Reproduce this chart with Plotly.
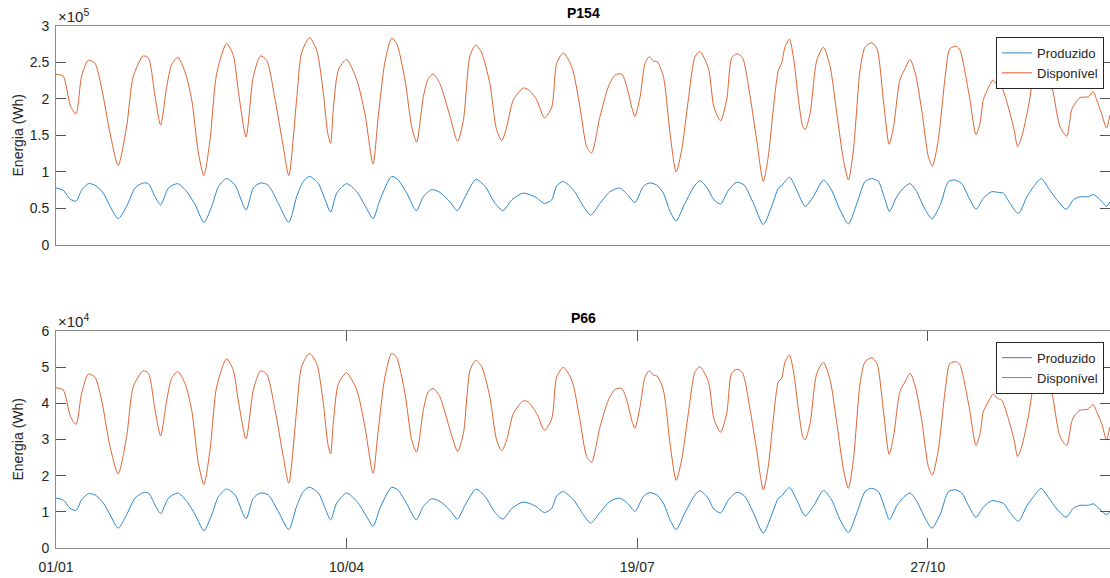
import pandas as pd
import plotly.graph_objects as go

# Day offsets (from 1 Jan 2020) of the sampled vertices of each curve
disp_days = [0.0, 2.5, 5.0, 6.9, 8.8, 11.1, 13.4, 15.7, 18.6, 21.4, 24.3, 26.6, 30.0, 31.8, 34.1, 36.0,
             38.1, 39.8, 41.9, 44.4, 46.7, 49.0, 50.9, 53.0, 55.3, 58.7, 61.0, 62.7, 65.4, 67.9, 70.4,
             72.5, 75.4, 78.2, 80.1, 82.8, 84.5, 87.2, 89.7, 92.0, 93.5, 94.5, 95.4, 97.2, 100.0, 103.5,
             106.3, 109.1, 110.9, 113.2, 115.5, 117.2, 120.1, 122.4, 124.1, 126.4, 128.1, 129.8, 132.1,
             135.6, 138.2, 140.2, 142.5, 144.5, 146.5, 149.3, 151.6, 153.4, 155.1, 157.4, 160.8, 162.5,
             165.4, 168.1, 170.6, 172.3, 174.6, 177.5, 180.3, 182.6, 184.3, 187.2, 190.1, 192.4, 194.7,
             196.4, 198.1, 199.2, 201.0, 202.7, 204.2, 205.6, 206.9, 209.0, 211.3, 213.4, 215.3, 217.6,
             219.9, 221.6, 224.5, 226.4, 228.7, 230.8, 232.5, 234.3, 236.2, 238.8, 241.1, 243.4, 245.1,
             246.8, 248.6, 249.7, 250.9, 252.4, 253.8, 255.5, 257.0, 257.8, 259.5, 261.8, 264.1, 266.4,
             268.7, 271.0, 272.7, 274.4, 276.7, 278.4, 280.7, 282.5, 284.7, 286.7, 288.2, 290.4, 292.2,
             293.9, 295.6, 297.9, 300.2, 301.6, 303.6, 306.0, 307.6, 309.9, 311.1, 312.8, 314.5, 316.6,
             318.0, 319.1, 320.8, 322.5, 323.9, 325.4, 327.7, 329.7, 330.9, 332.3, 334.6, 336.3, 339.0,
             341.7, 343.2, 345.5, 347.8, 349.5, 350.7, 352.4, 355.2, 356.9, 358.1, 359.8, 361.5, 362.7]

prod_days = [0.0, 2.5, 4.8, 6.9, 8.8, 11.1, 13.4, 16.3, 18.6, 21.4, 24.3, 27.2, 30.0, 31.8, 34.1, 36.0,
             38.7, 41.9, 45.0, 47.9, 50.9, 53.6, 55.9, 58.7, 61.6, 65.4, 67.9, 70.4, 73.0, 76.5, 80.1,
             82.8, 85.1, 87.2, 90.3, 92.6, 94.5, 96.6, 100.0, 103.5, 106.9, 109.1, 111.5, 115.5, 117.8,
             120.7, 124.0, 126.4, 129.3, 132.1, 135.6, 138.1, 140.8, 144.5, 147.7, 151.1, 153.8, 156.9,
             160.8, 164.8, 168.1, 170.6, 172.3, 174.6, 178.1, 181.5, 184.0, 187.2, 190.6, 194.0, 196.9,
             199.2, 202.1, 204.2, 206.7, 209.0, 211.3, 213.4, 216.4, 219.9, 221.6, 224.1, 226.4, 228.7,
             231.4, 234.3, 236.8, 240.0, 243.4, 246.3, 248.6, 249.7, 252.4, 254.9, 257.8, 260.6, 264.1,
             266.9, 269.8, 272.7, 275.6, 278.4, 280.7, 283.0, 285.3, 286.8, 289.3, 291.6, 293.9, 296.2,
             298.5, 301.4, 304.3, 307.1, 309.4, 311.7, 314.0, 316.6, 319.1, 322.0, 324.3, 326.0, 328.3,
             331.2, 334.1, 336.4, 339.0, 341.5, 344.4, 347.6, 350.1, 352.4, 355.2, 357.0, 359.3, 361.5,
             362.7]

# P154 energy, in units of 1e5 Wh
p154_disponivel = [2.34, 2.31, 1.90, 1.80, 2.31, 2.53, 2.49, 2.15, 1.53, 1.09, 1.62, 2.31, 2.59, 2.56, 2.03, 1.64,
                   2.17, 2.47, 2.57, 2.37, 1.99, 1.26, 0.95, 1.44, 2.35, 2.76, 2.60, 2.12, 1.48, 2.31, 2.59,
                   2.53, 1.99, 1.35, 0.95, 1.99, 2.63, 2.84, 2.67, 2.08, 1.53, 1.39, 1.85, 2.40, 2.54, 2.26,
                   1.80, 1.11, 1.76, 2.51, 2.83, 2.76, 2.26, 1.62, 1.41, 2.03, 2.28, 2.34, 2.21,
                   1.76, 1.42, 1.71, 2.60, 2.74, 2.63, 2.21, 1.58, 1.43, 1.62, 1.99, 2.15, 2.13,
                   1.99, 1.74, 1.89, 2.49, 2.63, 2.44, 1.89, 1.35, 1.26, 1.76, 2.17, 2.33, 2.34,
                   2.17, 1.89, 1.76, 2.03, 2.49, 2.58, 2.52, 2.51, 2.31, 1.53, 1.00, 1.30, 1.99,
                   2.58, 2.65, 2.42, 1.89, 1.70, 1.99, 2.56, 2.62, 2.57, 2.05, 1.44, 0.87, 1.21,
                   1.85, 2.40, 2.49, 2.72, 2.82, 2.56, 1.99, 1.62, 1.58, 1.80, 2.53, 2.71, 2.44,
                   1.80, 1.16, 0.89, 1.30, 2.40, 2.71, 2.77, 2.69, 1.99, 1.38, 1.62, 2.26, 2.42,
                   2.54, 2.37, 1.85, 1.21, 1.08, 1.44, 2.31, 2.69, 2.72, 2.67, 2.37, 1.99, 1.51,
                   1.67, 1.99, 2.15, 2.26, 2.19, 2.16, 1.89, 1.58, 1.35, 1.48, 1.89, 2.31, 2.72,
                   2.33, 2.08, 1.62, 1.49, 1.85, 1.94, 2.02, 2.03, 2.10, 1.99, 1.80, 1.60, 1.78]

p154_produzido = [0.78, 0.75, 0.63, 0.60, 0.75, 0.84, 0.82, 0.71, 0.53, 0.36, 0.53, 0.78, 0.85, 0.84, 0.66, 0.55,
                  0.78, 0.84, 0.73, 0.55, 0.31, 0.53, 0.80, 0.91, 0.82, 0.48, 0.78, 0.85, 0.82, 0.57, 0.31,
                  0.66, 0.87, 0.94, 0.84, 0.62, 0.45, 0.71, 0.84, 0.73, 0.50, 0.36, 0.62, 0.94, 0.89,
                  0.71, 0.47, 0.66, 0.76, 0.72, 0.59, 0.47, 0.66, 0.90, 0.80, 0.57, 0.47, 0.62,
                  0.71, 0.66, 0.57, 0.62, 0.81, 0.87, 0.75, 0.53, 0.41, 0.57, 0.73, 0.78, 0.68,
                  0.58, 0.80, 0.85, 0.82, 0.71, 0.46, 0.33, 0.57, 0.82, 0.88, 0.78, 0.62, 0.56,
                  0.75, 0.86, 0.82, 0.57, 0.28, 0.53, 0.78, 0.81, 0.93, 0.75, 0.53, 0.66, 0.89,
                  0.75, 0.48, 0.29, 0.57, 0.87, 0.91, 0.87, 0.62, 0.46, 0.66, 0.78, 0.84, 0.73,
                  0.53, 0.36, 0.55, 0.87, 0.89, 0.84, 0.66, 0.49, 0.64, 0.73, 0.72, 0.71, 0.57,
                  0.43, 0.66, 0.80, 0.91, 0.78, 0.62, 0.49, 0.62, 0.66, 0.66, 0.69, 0.62, 0.53,
                  0.59]

# P66 energy, in units of 1e4 Wh
p66_disponivel = [4.43, 4.37, 3.63, 3.42, 4.27, 4.81, 4.72, 4.09, 2.80, 2.05, 3.08, 4.46, 4.90, 4.83, 3.81, 3.10,
                  4.09, 4.69, 4.88, 4.55, 3.81, 2.34, 1.76, 2.71, 4.46, 5.23, 4.92, 4.09, 3.02, 4.37, 4.90,
                  4.81, 3.81, 2.53, 1.79, 3.81, 5.01, 5.38, 5.10, 4.00, 2.90, 2.60, 3.45, 4.55, 4.84, 4.37,
                  3.35, 2.07, 3.26, 4.73, 5.38, 5.27, 4.27, 2.99, 2.65, 3.81, 4.32, 4.41, 4.18,
                  3.26, 2.67, 3.17, 4.92, 5.19, 5.01, 4.18, 2.99, 2.69, 2.99, 3.72, 4.07, 4.04,
                  3.72, 3.26, 3.58, 4.73, 4.99, 4.64, 3.54, 2.53, 2.37, 3.35, 4.09, 4.39, 4.41,
                  4.09, 3.54, 3.31, 3.91, 4.73, 4.90, 4.78, 4.75, 4.37, 2.90, 1.87, 2.44, 3.72,
                  4.87, 5.01, 4.60, 3.58, 3.20, 3.72, 4.83, 4.94, 4.85, 3.85, 2.71, 1.61, 2.25,
                  3.54, 4.60, 4.69, 5.15, 5.33, 4.87, 3.81, 3.08, 2.99, 3.45, 4.83, 5.13, 4.64,
                  3.45, 2.16, 1.65, 2.44, 4.55, 5.15, 5.26, 5.10, 3.81, 2.59, 3.08, 4.32, 4.60,
                  4.83, 4.50, 3.54, 2.25, 2.02, 2.71, 4.37, 5.10, 5.15, 5.06, 4.50, 3.77, 2.83,
                  3.17, 3.77, 4.04, 4.26, 4.14, 4.09, 3.58, 2.99, 2.53, 2.80, 3.63, 4.46, 5.15,
                  4.64, 4.09, 3.08, 2.83, 3.49, 3.68, 3.81, 3.84, 3.97, 3.77, 3.45, 2.99, 3.35]

p66_produzido = [1.38, 1.33, 1.10, 1.04, 1.33, 1.50, 1.47, 1.24, 0.92, 0.55, 0.92, 1.38, 1.53, 1.52, 1.19, 0.95,
                 1.38, 1.52, 1.29, 0.92, 0.48, 0.92, 1.42, 1.63, 1.47, 0.81, 1.38, 1.52, 1.47, 1.01, 0.51,
                 1.15, 1.56, 1.68, 1.52, 1.10, 0.78, 1.24, 1.52, 1.29, 0.87, 0.60, 1.10, 1.68, 1.59,
                 1.22, 0.78, 1.15, 1.36, 1.29, 1.04, 0.80, 1.19, 1.63, 1.42, 0.98, 0.80, 1.10,
                 1.27, 1.17, 0.98, 1.10, 1.44, 1.56, 1.33, 0.92, 0.69, 0.98, 1.29, 1.38, 1.22,
                 1.01, 1.42, 1.53, 1.47, 1.24, 0.78, 0.51, 0.97, 1.47, 1.58, 1.41, 1.08, 0.97,
                 1.33, 1.54, 1.45, 0.97, 0.41, 0.92, 1.38, 1.44, 1.67, 1.33, 0.89, 1.15, 1.59,
                 1.33, 0.78, 0.43, 0.97, 1.56, 1.65, 1.56, 1.08, 0.78, 1.17, 1.40, 1.52, 1.29,
                 0.92, 0.55, 0.94, 1.56, 1.61, 1.52, 1.17, 0.85, 1.13, 1.31, 1.28, 1.24, 0.98,
                 0.74, 1.17, 1.42, 1.65, 1.40, 1.08, 0.85, 1.10, 1.18, 1.18, 1.22, 1.06, 0.92,
                 1.01]

x_tick_days = [0, 100, 200, 300]
y1_ticks = [0, 0.5, 1, 1.5, 2, 2.5, 3]
y2_ticks = [0, 1, 2, 3, 4, 5, 6]

BLUE = "#2b86cc"
ORANGE = "#de6433"
AXIS = "#8c8c8c"
TEXT = "#262626"
FONT = "Liberation Sans, Arial, Helvetica, sans-serif"

start = pd.Timestamp("2020-01-01")
to_dates = lambda d: start + pd.to_timedelta(d, unit="D")
x_disp = to_dates(disp_days)
x_prod = to_dates(prod_days)
x_end = to_dates([362.7])[0]

fig = go.Figure()
line_kw = dict(shape="spline", smoothing=0.7, width=1)

fig.add_trace(go.Scatter(x=x_prod, y=[v * 1e5 for v in p154_produzido], name="Produzido",
                         mode="lines", line=dict(color=BLUE, **line_kw), xaxis="x", yaxis="y", legend="legend"))
fig.add_trace(go.Scatter(x=x_disp, y=[v * 1e5 for v in p154_disponivel], name="Disponível",
                         mode="lines", line=dict(color=ORANGE, **line_kw), xaxis="x", yaxis="y", legend="legend"))
fig.add_trace(go.Scatter(x=x_prod, y=[v * 1e4 for v in p66_produzido], name="Produzido",
                         mode="lines", line=dict(color=BLUE, **line_kw), xaxis="x2", yaxis="y2", legend="legend2"))
fig.add_trace(go.Scatter(x=x_disp, y=[v * 1e4 for v in p66_disponivel], name="Disponível",
                         mode="lines", line=dict(color=ORANGE, **line_kw), xaxis="x2", yaxis="y2", legend="legend2"))

axis_common = dict(showline=True, linecolor=AXIS, linewidth=1, showgrid=False, zeroline=False,
                   tickcolor="#555555", tickfont=dict(size=14, color=TEXT, family=FONT))

tickvals_x = [to_dates([d])[0] for d in x_tick_days]

legend_common = dict(bgcolor="white", bordercolor=TEXT, borderwidth=1, xanchor="right", yanchor="top",
                     font=dict(size=13, color=TEXT, family=FONT), tracegroupgap=0, itemwidth=30)

fig.update_layout(
    width=1110, height=578,
    margin=dict(l=56, r=0, t=26, b=30),
    paper_bgcolor="white", plot_bgcolor="white",
    font=dict(family=FONT, size=14, color=TEXT),
    xaxis=dict(domain=[0, 1], anchor="y", range=[start, x_end], type="date",
               mirror=True, ticks="", showticklabels=False, **axis_common),
    yaxis=dict(domain=[0.5805, 1], anchor="x", range=[0, 3e5], mirror="ticks", ticks="inside", ticklen=10,
               ticklabelstandoff=3,
               tickvals=[v * 1e5 for v in y1_ticks], ticktext=[f"{v:g}" for v in y1_ticks], **axis_common),
    xaxis2=dict(domain=[0, 1], anchor="y2", range=[start, x_end], type="date", ticklabelstandoff=6,
                mirror="ticks", ticks="inside", ticklen=10, tickvals=tickvals_x, tickformat="%d/%m", **axis_common),
    yaxis2=dict(domain=[0, 0.4157], anchor="x2", range=[0, 6e4], mirror="ticks", ticks="inside", ticklen=10,
                ticklabelstandoff=3,
                tickvals=[v * 1e4 for v in y2_ticks], ticktext=[f"{v:g}" for v in y2_ticks], **axis_common),
    legend=dict(x=0.9943, y=0.979, **legend_common),
    legend2=dict(x=0.9943, y=0.3952, **legend_common),
    showlegend=True,
)

annotations = []
for xa, ya, title, exp in [("x", "y", "P154", 5), ("x2", "y2", "P66", 4)]:
    annotations.append(dict(text=f"<b>{title}</b>", xref=f"{xa} domain", yref=f"{ya} domain",
                            x=0.5, y=1, xanchor="center", yanchor="bottom", yshift=3, showarrow=False,
                            font=dict(size=14, color="black", family=FONT)))
    annotations.append(dict(text=f"×10<sup>{exp}</sup>", xref=f"{xa} domain", yref=f"{ya} domain",
                            x=0, y=1, xanchor="left", yanchor="bottom", yshift=-1, showarrow=False,
                            font=dict(size=15, color=TEXT, family=FONT)))
    annotations.append(dict(text="Energia (Wh)", xref=f"{xa} domain", yref=f"{ya} domain",
                            x=-38 / 1054, y=0.5, xanchor="center", yanchor="middle", textangle=-90,
                            showarrow=False, font=dict(size=14, color=TEXT, family=FONT)))
fig.update_layout(annotations=annotations)

fig.write_html("out.html")
